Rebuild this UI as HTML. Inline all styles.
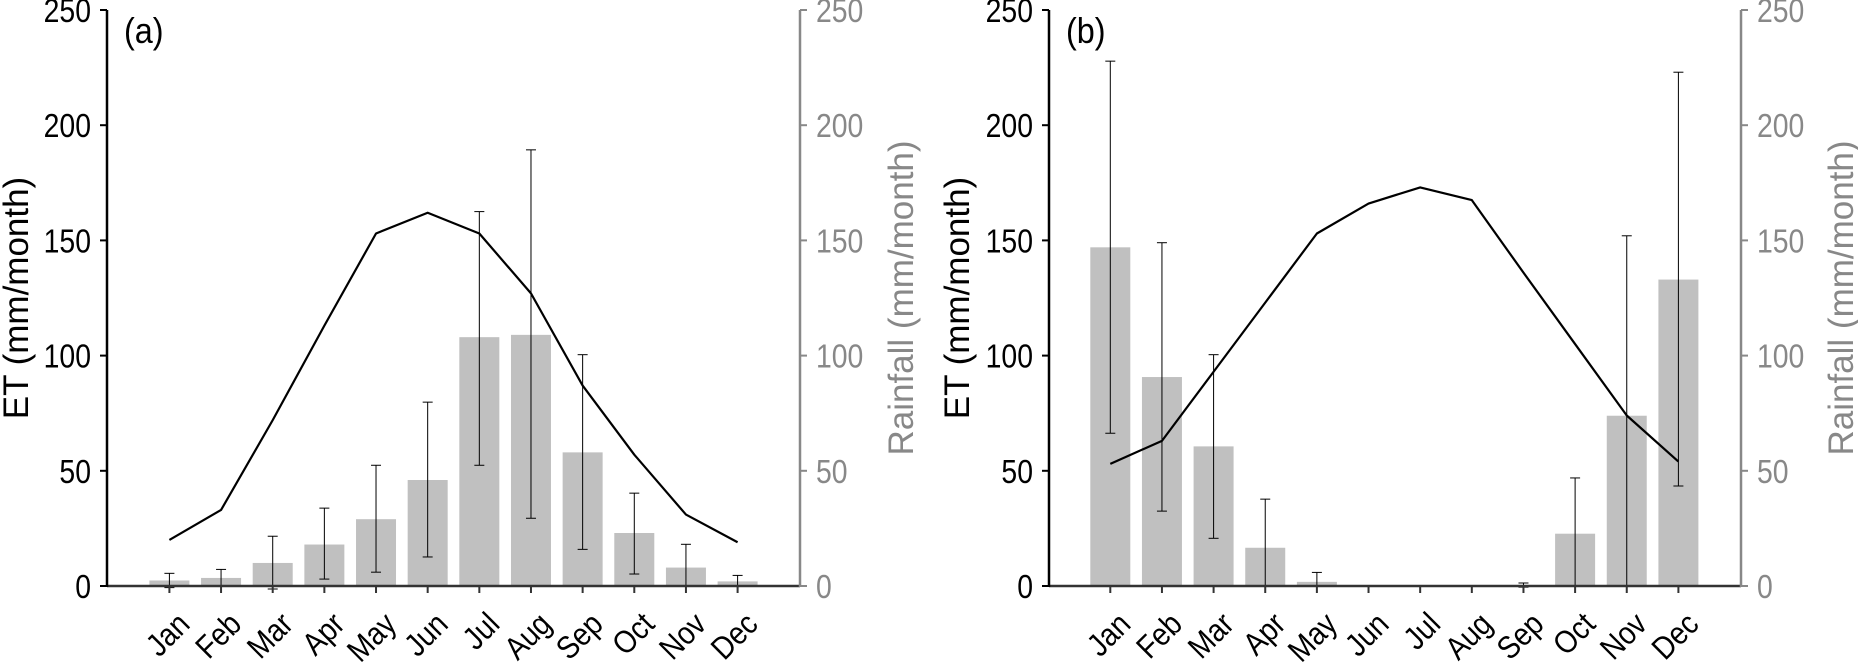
<!DOCTYPE html>
<html><head><meta charset="utf-8"><style>
html,body{margin:0;padding:0;background:#fff}
svg{display:block;font-family:"Liberation Sans",Arial,sans-serif}
</style></head><body>
<svg id="chart" width="1858" height="668" viewBox="0 0 1858 668"></svg>
<script>
const months = ["Jan","Feb","Mar","Apr","May","Jun","Jul","Aug","Sep","Oct","Nov","Dec"];
const yTicks = [0,50,100,150,200,250];
const etA = [20,33,72,113,153,162,153,127,87,57,31,19];
const rainA = [2.4,3.5,10,18,29,46,108,109,58,23,8,2];
const rainLowA = [-0.7,0,-1.3,3,6,12.6,52.4,29.4,15.9,5.2,0,0];
const rainHighA = [5.5,7.2,21.6,33.8,52.4,79.8,162.5,189.3,100.4,40.3,18.1,4.6];
const etB = [53,63,93,123,153,166,173,167.5,136,105,74,54];
const rainB = [147,90.7,60.6,16.6,1.8,0,0,0,0,22.7,73.9,133];
const rainLowB = [66.3,32.5,20.7,0,0,null,null,null,-0.5,0,0,43.4];
const rainHighB = [227.8,149,100.4,37.7,5.9,null,null,null,1.3,46.9,152,223];

const svg = document.getElementById('chart');
const NS = 'http://www.w3.org/2000/svg';
function mk(tag, attrs, parent){
  const e = document.createElementNS(NS, tag);
  for (const k in attrs) e.setAttribute(k, attrs[k]);
  (parent||svg).appendChild(e); return e;
}
const Y0 = 586, YTOP = 10, YMAX = 250;
function yScale(v){ return Y0 - (v / YMAX) * (Y0 - YTOP); }

function panel(p){
  const g = mk('g', {});
  
  
  const step = (p.xDec - p.xJan) / 11;
  const xScale = i => p.xJan + i * step;
  const bw = 40;
  p.rain.forEach((v, i) => {
    if (v <= 0) return;
    const r = mk('rect', {x: xScale(i) - bw/2, y: yScale(v), width: bw, height: Y0 - yScale(v), fill: '#c0c0c0'}, g);
    
    
  });
  p.low.forEach((lo, i) => {
    const hi = p.high[i];
    if (lo === null || hi === null) return;
    const x = xScale(i);
    const eg = mk('g', {stroke: '#000', 'stroke-width': 1}, g);
    
    
    mk('line', {x1: x, x2: x, y1: yScale(lo), y2: yScale(hi)}, eg);
    mk('line', {x1: x-5, x2: x+5, y1: yScale(hi), y2: yScale(hi)}, eg);
    mk('line', {x1: x-5, x2: x+5, y1: yScale(lo), y2: yScale(lo)}, eg);
  });
  const pts = p.et.map((v, i) => xScale(i) + ',' + yScale(v)).join(' ');
  const pl = mk('polyline', {points: pts, fill: 'none', stroke: '#000', 'stroke-width': 2.2, 'stroke-linejoin': 'round'}, g);
  
  
  const xa = mk('line', {x1: p.xL, x2: p.xR, y1: Y0, y2: Y0, stroke: '#333', 'stroke-width': 2.5}, g);
  
  
  months.forEach((m, i) => {
    const x = xScale(i);
    mk('line', {x1: x, x2: x, y1: Y0, y2: Y0 + 7, stroke: '#333', 'stroke-width': 2}, g);
    const t = mk('text', {x: 0, y: 0, 'font-size': 32, 'text-anchor': 'end', fill: '#000', transform: 'translate(' + (x + 22) + ' 626) rotate(-45) scale(0.88 1)'}, g);
    
    
    t.textContent = m;
  });
  const la = mk('line', {x1: p.xL, x2: p.xL, y1: YTOP, y2: Y0 + 1, stroke: '#000', 'stroke-width': 2.5}, g);
  
  
  const ra = mk('line', {x1: p.xR, x2: p.xR, y1: YTOP, y2: Y0 + 1, stroke: '#888', 'stroke-width': 2.5}, g);
  
  
  yTicks.forEach(v => {
    const y = yScale(v);
    mk('line', {x1: p.xL - 7, x2: p.xL, y1: y, y2: y, stroke: '#000', 'stroke-width': 2}, g);
    mk('line', {x1: p.xR, x2: p.xR + 7, y1: y, y2: y, stroke: '#888', 'stroke-width': 2}, g);
    const tl = mk('text', {x: 0, y: 0, 'font-size': 33, 'text-anchor': 'end', fill: '#000', transform: 'translate(' + (p.xL - 16) + ' ' + (y + 12) + ') scale(0.86 1)'}, g);
    
    
    tl.textContent = v;
    const tr = mk('text', {x: 0, y: 0, 'font-size': 33, 'text-anchor': 'start', fill: '#888', transform: 'translate(' + (p.xR + 16) + ' ' + (y + 12) + ') scale(0.86 1)'}, g);
    
    
    tr.textContent = v;
  });
  const lt = mk('text', {x: 0, y: 0, 'font-size': 35, 'text-anchor': 'middle', fill: '#000', transform: 'translate(' + p.etTitleX + ' 298) rotate(-90)'}, g);
  
  
  lt.textContent = 'ET (mm/month)';
  const rt = mk('text', {x: 0, y: 0, 'font-size': 35, 'text-anchor': 'middle', fill: '#888', transform: 'translate(' + p.rainTitleX + ' 298) rotate(-90)'}, g);
  
  
  rt.textContent = 'Rainfall (mm/month)';
  const pt = mk('text', {x: 0, y: 0, 'font-size': 36, fill: '#000', transform: 'translate(' + (p.xL + 17) + ' 43) scale(0.9 1)'}, g);
  
  
  pt.textContent = '(' + p.id + ')';
}
panel({id: 'a', xL: 107, xR: 800, xJan: 169.4, xDec: 737.6, et: etA, rain: rainA, low: rainLowA, high: rainHighA, etTitleX: 28, rainTitleX: 913});
panel({id: 'b', xL: 1049, xR: 1741, xJan: 1110.3, xDec: 1678.4, et: etB, rain: rainB, low: rainLowB, high: rainHighB, etTitleX: 969, rainTitleX: 1853});
</script>
</body></html>
